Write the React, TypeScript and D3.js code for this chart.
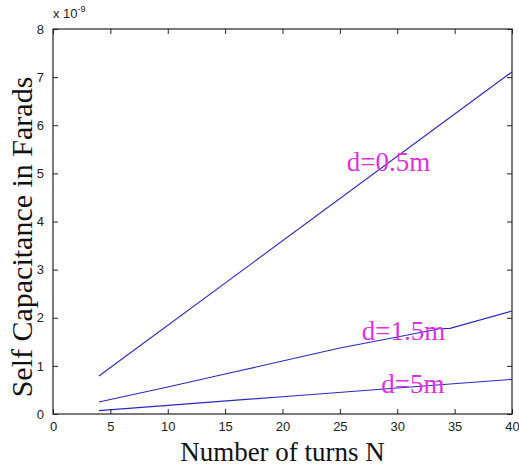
import React, { useEffect, useRef } from 'react';
import * as d3 from 'd3';

// values in units of 1e-9 F
const turnsA = [4, 40];
const capA = [0.79, 7.11];
const turnsB = [4, 10, 15, 20, 25, 30, 33.7, 34.6, 40];
const capB = [0.25, 0.56, 0.83, 1.1, 1.37, 1.6, 1.77, 1.78, 2.14];
const turnsC = [4, 10, 20, 30, 40];
const capC = [0.07, 0.18, 0.36, 0.54, 0.72];
const seriesLabels = ['d=0.5m', 'd=1.5m', 'd=5m'];
const labelPos = [[25.6, 5.05], [26.9, 1.54], [28.6, 0.44]];
const xTicks = [0, 5, 10, 15, 20, 25, 30, 35, 40];
const yTicks = [0, 1, 2, 3, 4, 5, 6, 7, 8];

export default function App() {
  const ref = useRef<SVGSVGElement>(null);

  useEffect(() => {
    const svg = d3.select(ref.current);
    svg.selectAll('*').remove();
    const margin = { top: 29, right: 7, bottom: 56, left: 53 };
    const W = 519, H = 470;
    const width = W - margin.left - margin.right;
    const height = H - margin.top - margin.bottom;

    const g = svg.append('g').attr('transform', `translate(${margin.left},${margin.top})`);
    const x = d3.scaleLinear().domain([0, 40]).range([0, width]);
    const y = d3.scaleLinear().domain([0, 8]).range([height, 0]);

    const series = [
      turnsA.map((t, i) => [t, capA[i]]),
      turnsB.map((t, i) => [t, capB[i]]),
      turnsC.map((t, i) => [t, capC[i]])
    ];
    const line = d3.line<number[]>().x(d => x(d[0])).y(d => y(d[1]));

    g.selectAll('.series').data(series).join('path')
      .attr('class', 'series')
      .attr('d', d => line(d))
      .attr('fill', 'none')
      .attr('stroke', '#2828c0')
      .attr('stroke-width', 1.1);

    // axes: ticks inward on all sides
    const fontT = 'Liberation Sans, Arial, sans-serif';
    const xb = g.append('g').attr('transform', `translate(0,${height})`)
      .call(d3.axisBottom(x).tickValues(xTicks).tickSizeInner(-5).tickSizeOuter(0).tickPadding(8));
    const xt = g.append('g')
      .call(d3.axisTop(x).tickValues(xTicks).tickSizeInner(-5).tickSizeOuter(0).tickFormat(() => ''));
    const yl = g.append('g')
      .call(d3.axisLeft(y).tickValues(yTicks).tickSizeInner(-5).tickSizeOuter(0).tickPadding(9));
    const yr = g.append('g').attr('transform', `translate(${width},0)`)
      .call(d3.axisRight(y).tickValues(yTicks).tickSizeInner(-5).tickSizeOuter(0).tickFormat(() => ''));
    [xb, xt, yl, yr].forEach(a => {
      a.select('.domain').remove();
      a.selectAll('line').attr('stroke', '#222');
      a.selectAll('text').attr('font-family', fontT).attr('font-size', 13).attr('fill', '#222');
    });
    g.append('rect').attr('width', width).attr('height', height)
      .attr('fill', 'none').attr('stroke', '#222').attr('stroke-width', 1.2);

    // exponent
    const ex = g.append('text').attr('x', 0).attr('y', -11)
      .attr('font-family', fontT).attr('font-size', 13).attr('fill', '#222');
    ex.append('tspan').text('x 10');
    ex.append('tspan').attr('dy', -6).attr('font-size', 9).text('-9');

    g.selectAll('.lab').data(seriesLabels).join('text')
      .attr('class', 'lab')
      .attr('x', (d, i) => x(labelPos[i][0]))
      .attr('y', (d, i) => y(labelPos[i][1]))
      .attr('font-family', 'Liberation Serif, Times New Roman, serif')
      .attr('font-size', 27)
      .attr('fill', '#e030e0')
      .text(d => d);

    svg.append('text')
      .attr('x', margin.left + width / 2).attr('y', 461)
      .attr('text-anchor', 'middle')
      .attr('font-family', 'Liberation Serif, Times New Roman, serif')
      .attr('font-size', 27)
      .attr('fill', '#111')
      .text('Number of turns N');

    svg.append('text')
      .attr('transform', `translate(32,237) rotate(-90)`)
      .attr('text-anchor', 'middle')
      .attr('font-family', 'Liberation Serif, Times New Roman, serif')
      .attr('font-size', 30)
      .attr('fill', '#111')
      .text('Self Capacitance in Farads');
  }, []);

  return (
    <svg ref={ref} width={519} height={470} style={{ position: 'absolute', left: 0, top: 0, background: '#fff' }} />
  );
}
